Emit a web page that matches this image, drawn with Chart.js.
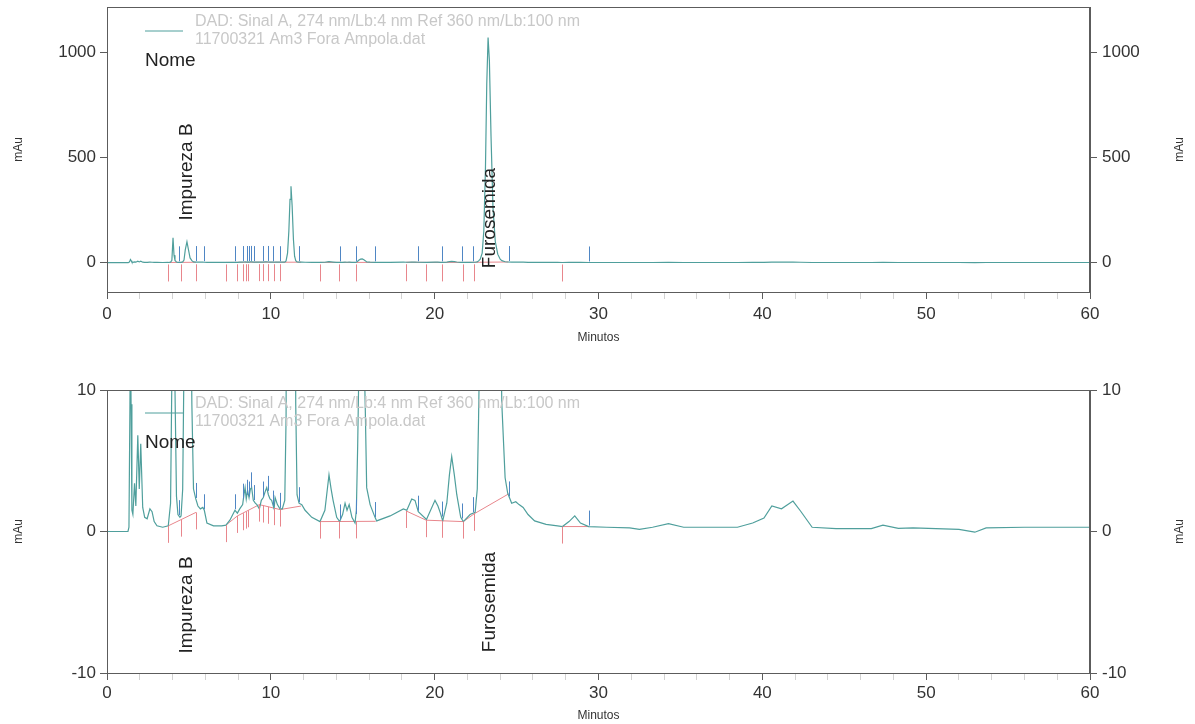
<!DOCTYPE html>
<html>
<head>
<meta charset="utf-8">
<title>Cromatograma</title>
<script src="https://cdn.jsdelivr.net/npm/chart.js@4.4.1/dist/chart.umd.min.js"></script>
<style>
	body { margin: 0; background: #fff; }
	.box { position: absolute; left: 0; width: 1195px; }
	#top_box { top: 0; height: 360px; }
	#bot_box { top: 360px; height: 364px; }
</style>
</head>
<body>
<div class="box" id="top_box"><canvas id="top_chart" width="1195" height="360"></canvas></div>
<div class="box" id="bot_box"><canvas id="bot_chart" width="1195" height="364"></canvas></div>
<script>
// TRACE (minutes / mAu)
const trace_times = [
	0, 1.0, 1.28, 1.34, 1.40, 1.43, 1.47, 1.52, 1.58, 1.68, 1.76, 1.88, 1.97, 2.06, 2.18, 2.30, 2.45, 2.62, 2.75, 2.88,
	3.05, 3.40, 3.74, 3.88, 3.96, 4.03, 4.09, 4.15, 4.24, 4.33, 4.45, 4.52, 4.62, 4.70, 4.78, 4.88, 4.97, 5.07, 5.18, 5.28,
	5.42, 5.55, 5.70, 5.85, 5.94, 6.10, 6.50, 7.00, 7.26, 7.50, 7.81, 7.96, 8.10, 8.28, 8.36, 8.43, 8.50, 8.58, 8.67, 8.75,
	8.83, 8.93, 9.05, 9.15, 9.30, 9.42, 9.54, 9.65, 9.75, 9.85, 9.95, 10.05, 10.20, 10.26, 10.40, 10.56, 10.70, 10.85, 10.93, 11.02,
	11.10, 11.17, 11.23, 11.30, 11.38, 11.45, 11.52, 11.60, 11.72, 11.89, 12.09, 12.50, 13.00, 13.30, 13.45, 13.55, 13.68, 13.80, 14.02, 14.20,
	14.38, 14.53, 14.65, 14.78, 14.95, 15.14, 15.22, 15.30, 15.38, 15.48, 15.58, 15.68, 15.76, 15.85, 16.06, 16.36, 16.46, 17.28, 18.09, 18.30,
	18.60, 18.80, 19.00, 19.50, 20.02, 20.20, 20.35, 20.49, 20.74, 20.90, 21.04, 21.20, 21.35, 21.59, 21.75, 22.16, 22.47, 22.60, 22.68, 22.78,
	22.90, 23.00, 23.10, 23.18, 23.26, 23.34, 23.44, 23.56, 23.70, 23.85, 24.00, 24.10, 24.30, 24.46, 24.70, 24.95, 25.15, 25.40, 25.70, 26.10,
	26.80, 27.50, 27.80, 28.20, 28.55, 28.90, 29.40, 30.50, 31.90, 32.50, 33.30, 34.27, 35.20, 36.80, 38.48, 39.41, 40.10, 40.58, 41.17, 41.87,
	42.33, 43.04, 44.50, 46.65, 47.36, 48.30, 49.20, 52.00, 52.97, 53.66, 56.00, 60.00
];
const trace_values = [
	0, 0, 0, 0.3, 9, 14, 9, 1.5, 1.2, 3.4, 1.8, 6.8, 3.0, 6.2, 1.7, 1.0, 0.9, 1.6, 1.4, 0.7,
	0.4, 0.3, 0.4, 2, 11, 118, 35, 10, 2.5, 1.2, 1.0, 1.1, 3, 12, 62, 99, 62, 22, 9, 3,
	2.3, 1.8, 1.6, 1.7, 1.5, 0.6, 0.4, 0.4, 0.45, 0.8, 1.5, 1.3, 1.6, 1.9, 2.6, 3.1, 2.3, 2.9, 2.4, 3.0,
	3.1, 2.2, 2.0, 1.9, 1.6, 2.2, 2.4, 2.8, 3.1, 2.6, 2.3, 2.2, 1.6, 2.4, 1.9, 1.6, 1.6, 2.2, 8, 45,
	150, 300, 363, 270, 110, 30, 9, 2.6, 2.0, 1.9, 1.5, 1.0, 0.7, 1.5, 3.0, 4.0, 3.0, 2.2, 1.0, 0.7,
	1.2, 2.0, 1.5, 1.9, 1.0, 0.6, 1.5, 6, 12, 16, 17, 13, 9, 3.1, 1.9, 1.0, 0.75, 1.1, 1.6, 1.5,
	2.3, 2.2, 1.4, 0.85, 2.2, 1.8, 1.3, 0.75, 2.0, 4.0, 5.3, 4.0, 2.6, 1.0, 0.7, 1.2, 1.35, 3, 8, 16,
	45, 150, 450, 850, 1070, 960, 600, 260, 100, 40, 16, 9, 3.8, 2.7, 2.0, 2.1, 1.9, 1.7, 1.2, 0.75,
	0.5, 0.4, 0.35, 0.7, 1.1, 0.6, 0.35, 0.3, 0.25, 0.15, 0.3, 0.55, 0.3, 0.3, 0.3, 0.6, 0.95, 1.8, 1.6, 2.15,
	1.45, 0.3, 0.2, 0.2, 0.45, 0.22, 0.25, 0.15, -0.05, 0.25, 0.3, 0.3
];

// INTEGRATION BASELINE (null = break)
const base_times  = [3.74, 5.43, null, 7.26, 7.96, 9.30, 10.56, 11.85, null, 12.99, 16.40, null, 18.26, 19.48, 21.75, 22.41, 24.50, null, 27.78, 29.43];
const base_values = [0.4, 1.35, null, 0.45, 1.1, 1.9, 1.55, 1.8, null, 0.7, 0.72, null, 1.45, 0.8, 0.7, 1.25, 2.65, null, 0.35, 0.35];

// PEAK MARKS
const blue_tick_times = [4.40, 5.42, 5.94, 7.81, 8.32, 8.53, 8.67, 8.79, 8.96, 9.54, 9.81, 10.16, 10.56, 11.72, 14.23, 15.19, 16.38, 19.00, 20.43, 21.67, 22.36, 24.56, 29.43];
const red_tick_times = [3.74, 4.52, 5.43, 7.26, 7.96, 8.28, 8.47, 8.63, 9.30, 9.54, 9.85, 10.20, 10.56, 12.99, 14.18, 15.19, 18.26, 19.48, 20.43, 21.75, 22.41, 27.78];

// PEAK NAMES
const peak_names = ['Impureza B', 'Furosemida'];
const peak_times = [4.88, 23.38];

// TEXTS
const legend_lines = ['DAD: Sinal A, 274 nm/Lb:4 nm Ref 360 nm/Lb:100 nm', '11700321 Am3 Fora Ampola.dat'];
const legend_name = 'Nome';
const x_title = 'Minutos';
const y_title = 'mAu';
const x_ticks = [0, 10, 20, 30, 40, 50, 60];
const top_y_ticks = [0, 500, 1000];
const bot_y_ticks = [-10, 0, 10];

const TRACE = '#4f9f9c';
const BLUE = '#4f86c4';
const RED = '#e8868c';
const AXIS = '#5c5c5c';
const FONT = "'Liberation Sans', Arial, sans-serif";

Chart.defaults.font.family = FONT;
Chart.defaults.color = '#333';

function valueAt(ts, vs, t){
	for(let i = 1; i < ts.length; i++){
		if(ts[i] === null || ts[i-1] === null) continue;
		if(t >= ts[i-1] && t <= ts[i]){
			const f = (t - ts[i-1]) / (ts[i] - ts[i-1]);
			return vs[i-1] + f * (vs[i] - vs[i-1]);
		}
	}
	return null;
}

const trace_points = trace_times.map((t, i) => ({x: t, y: trace_values[i]}));
let last_t = 0;
const base_points = base_times.map((t, i) => {
	if(t === null) return {x: last_t, y: null};
	last_t = t;
	return {x: t, y: base_values[i]};
});

// DRAW FRAME, MARKS AND TEXTS
const decor = {
	id: 'decor',
	afterDatasetsDraw(chart, args, o){
		const {ctx, chartArea: a, scales: {x, y}} = chart;
		ctx.save();
		ctx.beginPath();
		ctx.rect(a.left, a.top, a.right - a.left, a.bottom - a.top);
		ctx.clip();
		ctx.lineWidth = 1;

		ctx.strokeStyle = BLUE;
		ctx.beginPath();
		blue_tick_times.forEach(t => {
			const px = Math.round(x.getPixelForValue(t)) + 0.5;
			const py = y.getPixelForValue(valueAt(trace_times, trace_values, t));
			ctx.moveTo(px, py - 1);
			ctx.lineTo(px, py - 16);
		});
		ctx.stroke();

		ctx.strokeStyle = RED;
		ctx.beginPath();
		red_tick_times.forEach(t => {
			let v = valueAt(base_times, base_values, t);
			if(v === null) v = valueAt(trace_times, trace_values, t);
			const px = Math.round(x.getPixelForValue(t)) + 0.5;
			const py = y.getPixelForValue(v);
			ctx.moveTo(px, py + o.redGap);
			ctx.lineTo(px, py + o.redGap + 17);
		});
		ctx.stroke();
		ctx.restore();
	},
	afterDraw(chart, args, o){
		const {ctx, chartArea: a, scales: {x}} = chart;
		ctx.save();
		// frame
		ctx.strokeStyle = AXIS;
		ctx.lineWidth = 1;
		ctx.strokeRect(a.left + 0.5, a.top + 0.5, a.right - a.left - 1, a.bottom - a.top);

		// legend
		ctx.strokeStyle = TRACE;
		ctx.beginPath();
		ctx.moveTo(a.left + 38, a.top + o.legendY + 9);
		ctx.lineTo(a.left + 76, a.top + o.legendY + 9);
		ctx.stroke();
		ctx.fillStyle = '#c8c8c8';
		ctx.font = '16px ' + FONT;
		ctx.textBaseline = 'middle';
		ctx.textAlign = 'left';
		legend_lines.forEach((s, i) => ctx.fillText(s, a.left + 88, a.top + o.legendY + i * 18));
		ctx.fillStyle = '#222';
		ctx.font = '19px ' + FONT;
		ctx.fillText(legend_name, a.left + 38, a.top + o.legendY + 39);

		// peak names
		peak_names.forEach((s, i) => {
			ctx.save();
			ctx.translate(x.getPixelForValue(peak_times[i]), a.top + o.labelY[i]);
			ctx.rotate(-Math.PI / 2);
			ctx.textAlign = 'center';
			ctx.fillText(s, 0, 0);
			ctx.restore();
		});

		// right axis title
		ctx.save();
		ctx.translate(chart.width - 15, (a.top + a.bottom) / 2);
		ctx.rotate(-Math.PI / 2);
		ctx.textAlign = 'center';
		ctx.font = '12px ' + FONT;
		ctx.fillStyle = '#333';
		ctx.fillText(y_title, 0, 0);
		ctx.restore();
		ctx.restore();
	}
};

function yAxis(cfg, pos){
	return {
		type: 'linear',
		position: pos,
		min: cfg.y_min,
		max: cfg.y_max,
		afterBuildTicks: s => { s.ticks = cfg.y_ticks.map(v => ({value: v})); },
		afterFit: s => {
			s.width = pos === 'left' ? 107 : 105;
			s.paddingTop = 0;
			s.paddingBottom = 0;
		},
		ticks: { padding: pos === 'left' ? 4 : 5, font: {size: 17}, color: '#333', callback: v => String(v) },
		grid: { drawOnChartArea: false, drawTicks: true, tickLength: 7, tickColor: AXIS },
		border: { display: true, color: AXIS },
		title: { display: pos === 'left', text: y_title, font: {size: 12}, padding: {top: 11, bottom: 0} }
	};
}

function makeChart(id, cfg){
	return new Chart(document.getElementById(id), {
		type: 'line',
		data: {
			datasets: [{
				data: trace_points,
				borderColor: TRACE,
				borderWidth: 1.2,
				pointRadius: 0,
				tension: 0,
				clip: 0
			},{
				data: base_points,
				borderColor: RED,
				borderWidth: 1,
				pointRadius: 0,
				spanGaps: false,
				clip: 0
			}]
		},
		options: {
			responsive: false,
			animation: false,
			events: [],
			layout: { padding: { top: cfg.pad_top, left: 0, right: 0, bottom: 0 } },
			plugins: {
				legend: { display: false },
				tooltip: { enabled: false },
				decor: { redGap: cfg.red_gap, legendY: cfg.legend_y, labelY: cfg.label_y }
			},
			scales: {
				x: {
					type: 'linear',
					min: 0,
					max: 60,
					afterBuildTicks: s => {
						const list = [];
						for(let v = 0; v <= 60; v += 2) list.push({value: v});
						s.ticks = list;
					},
					afterFit: s => {
						s.height = cfg.x_height;
						s.paddingLeft = 0;
						s.paddingRight = 0;
					},
					ticks: {
						autoSkip: false,
						maxRotation: 0,
						padding: cfg.x_tick_pad,
						font: {size: 17},
						color: '#333',
						callback: v => x_ticks.includes(v) ? String(v) : ''
					},
					grid: {
						drawOnChartArea: false,
						drawTicks: true,
						tickLength: 7,
						tickColor: c => (c.tick && x_ticks.includes(c.tick.value)) ? AXIS : '#d2d2d2'
					},
					border: { display: true, color: AXIS },
					title: { display: true, text: x_title, font: {size: 12}, padding: {top: 0, bottom: cfg.x_title_pad} }
				},
				y: yAxis(cfg, 'left'),
				y2: yAxis(cfg, 'right')
			}
		},
		plugins: [decor]
	});
}

let top_chart = makeChart('top_chart', {
	y_min: -140, y_max: 1215, y_ticks: top_y_ticks,
	pad_top: 7, x_height: 68, x_tick_pad: 5, x_title_pad: 15,
	red_gap: 2, legend_y: 15, label_y: [165, 211]
});

let bot_chart = makeChart('bot_chart', {
	y_min: -10, y_max: 10, y_ticks: bot_y_ticks,
	pad_top: 30, x_height: 51, x_tick_pad: 3.5, x_title_pad: 1,
	red_gap: 0, legend_y: 14, label_y: [215, 212]
});
</script>
</body>
</html>
